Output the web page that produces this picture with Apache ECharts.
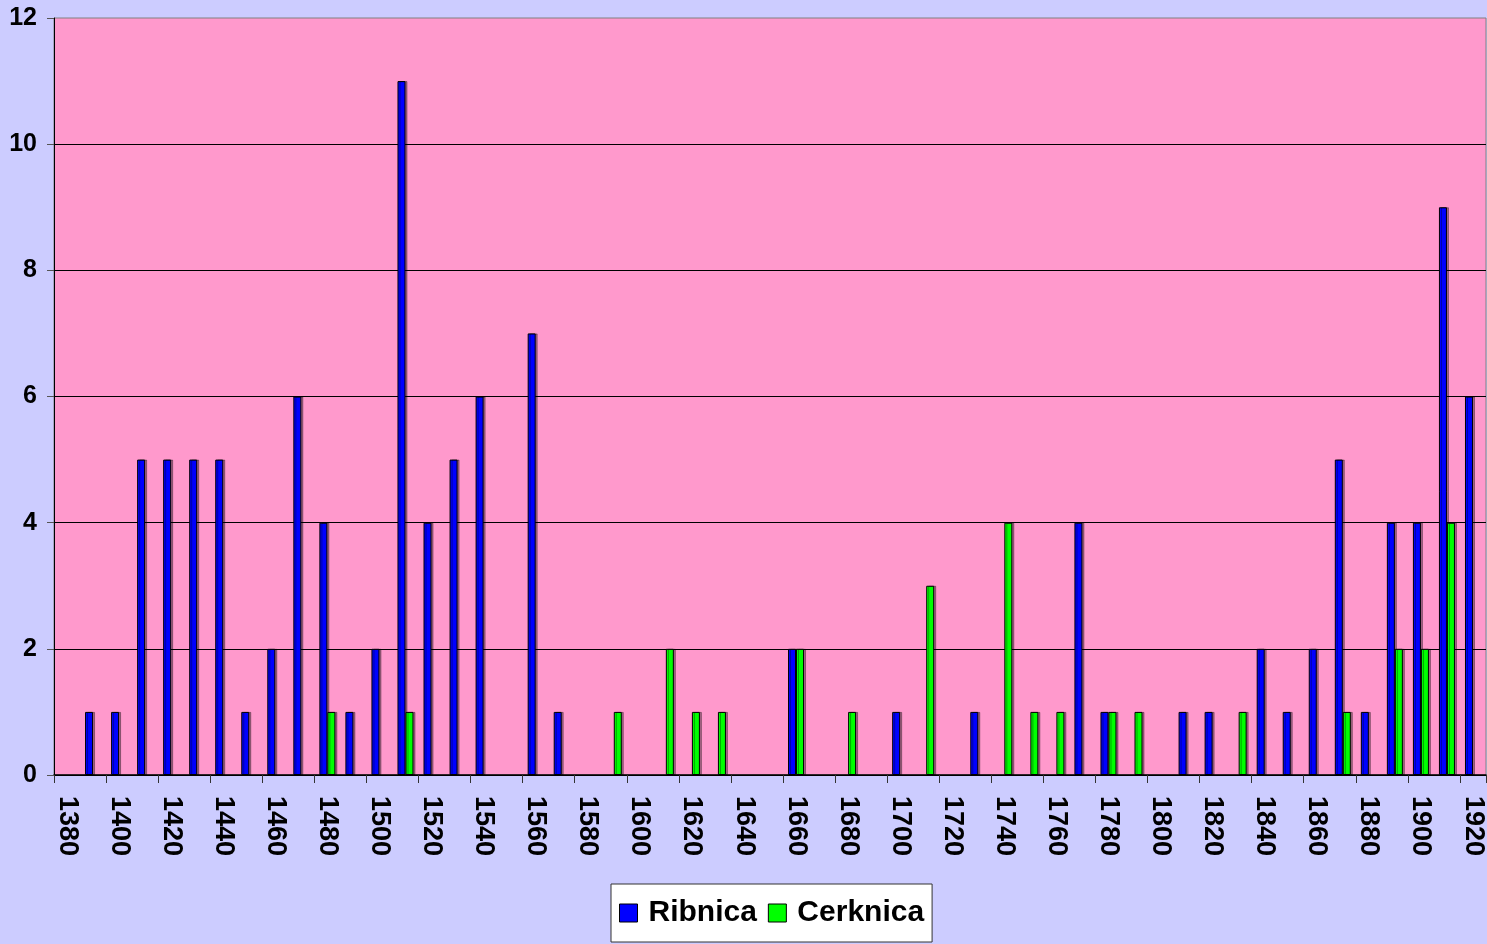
<!DOCTYPE html>
<html>
<head>
<meta charset="utf-8">
<script src="https://cdn.jsdelivr.net/npm/echarts@6/dist/echarts.min.js"></script>
<style>
  html, body { margin: 0; padding: 0; background: #CCCCFF; }
  #chart { width: 1487px; height: 944px; }
</style>
</head>
<body>
<div id="chart"></div>
<script>
const years = ["1380","1390","1400","1410","1420","1430","1440","1450","1460","1470",
  "1480","1490","1500","1510","1520","1530","1540","1550","1560","1570",
  "1580","1590","1600","1610","1620","1630","1640","1650","1660","1670",
  "1680","1690","1700","1710","1720","1730","1740","1750","1760","1770",
  "1780","1790","1800","1810","1820","1830","1840","1850","1860","1870",
  "1880","1890","1900","1910","1920"];

const ribnica = [null,1,1,5,5,5,5,1,2,6,
  4,1,2,11,4,5,6,null,7,1,
  null,null,null,null,null,null,null,null,2,null,
  null,null,1,null,null,1,null,null,null,4,
  1,null,null,1,1,null,2,1,2,5,
  1,4,4,9,6];

const cerknica = [null,null,null,null,null,null,null,null,null,null,
  1,null,null,1,null,null,null,null,null,null,
  null,1,null,2,1,1,null,null,2,null,
  1,null,null,3,null,null,4,1,1,null,
  1,1,null,null,null,1,null,null,null,1,
  null,2,2,4,null];

const seriesNames = ["Ribnica", "Cerknica"];
const colors = ["#0000FF", "#00FF00"];
const font = "'Liberation Sans', Arial, sans-serif";

let chart = echarts.init(document.getElementById("chart"), null, { renderer: "canvas" });

const barStyle = (c) => ({
    color: c,
    borderColor: "#000",
    borderWidth: 1,
    shadowColor: "rgba(0,0,0,0.35)",
    shadowOffsetX: 2,
    shadowOffsetY: 0,
    shadowBlur: 0
});

chart.setOption({
    backgroundColor: "#CCCCFF",
    animation: false,
    grid: {
        left: 54, right: 1, top: 18, bottom: 169,
        show: true,
        backgroundColor: "#FF99CC",
        borderColor: "#808080",
        borderWidth: 1
    },
    legend: {
        data: seriesNames,
        left: 611, top: 884,
        padding: [11, 8, 11, 8],
        backgroundColor: "#FFFFFF",
        borderColor: "#333",
        borderWidth: 1,
        icon: "rect",
        itemWidth: 18, itemHeight: 18,
        itemGap: 11,
        itemStyle: { borderColor: "#000", borderWidth: 1 },
        textStyle: { fontFamily: font, fontSize: 30, fontWeight: "bold", color: "#000",
                     padding: [0, 0, 0, 6], lineHeight: 36 }
    },
    xAxis: {
        type: "category",
        data: years,
        axisLine: { lineStyle: { color: "#000", width: 1.5 } },
        axisTick: { show: true, length: 8, lineStyle: { color: "#333" } },
        axisLabel: {
            interval: 1, rotate: -90, margin: 21,
            fontFamily: font, fontSize: 27, fontWeight: "bold", color: "#000"
        },
        splitLine: { show: false }
    },
    yAxis: {
        type: "value",
        min: 0, max: 12, interval: 2,
        axisLine: { show: true, lineStyle: { color: "#000" } },
        axisTick: { show: true, length: 7, lineStyle: { color: "#555" } },
        axisLabel: { margin: 17, fontFamily: font, fontSize: 25, fontWeight: "bold", color: "#000" },
        splitLine: { show: true, showMaxLine: false, lineStyle: { color: "#000", width: 1 } }
    },
    series: [
        { type: "bar", name: seriesNames[0], data: ribnica, barWidth: 8, barGap: "0%", itemStyle: barStyle(colors[0]) },
        { type: "bar", name: seriesNames[1], data: cerknica, barWidth: 8, barGap: "0%", itemStyle: barStyle(colors[1]) }
    ]
});
</script>
</body>
</html>
